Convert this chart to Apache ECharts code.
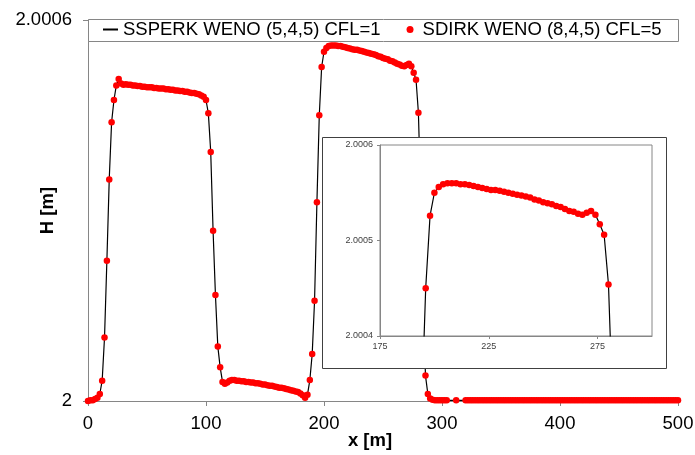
<!DOCTYPE html>
<html>
<head>
<meta charset="utf-8">
<title>H [m]</title>
<script src="https://cdn.jsdelivr.net/npm/echarts@6/dist/echarts.min.js"></script>
<style>
html,body{margin:0;padding:0;background:#fff}
#main{width:695px;height:455px}
</style>
</head>
<body>
<div id="main"></div>
<script>
// x of the mesh points [m]
const xPos=[
  0,2,4,6,8,10,12,14,16,18,20,22,24,26,28,30,32,34,36,38,40,42,44,46,48,
  50,52,54,56,58,60,62,64,66,68,70,72,74,76,78,80,82,84,86,88,90,92,94,96,98,
  100,102,104,106,108,110,112,114,116,118,120,122,124,126,128,130,132,134,136,138,140,142,144,146,148,
  150,152,154,156,158,160,162,164,166,168,170,172,174,176,178,180,182,184,186,188,190,192,194,196,198,
  200,202,204,206,208,210,212,214,216,218,220,222,224,226,228,230,232,234,236,238,240,242,244,246,248,
  250,252,254,256,258,260,262,264,266,268,270,272,274,276,278,280,282,284,286,288,290,292,294,296,298,
  300,302,304,306,308,310,312,314,316,318,320,322,324,326,328,330,332,334,336,338,340,342,344,346,348,
  350,352,354,356,358,360,362,364,366,368,370,372,374,376,378,380,382,384,386,388,390,392,394,396,398,
  400,402,404,406,408,410,412,414,416,418,420,422,424,426,428,430,432,434,436,438,440,442,444,446,448,
  450,452,454,456,458,460,462,464,466,468,470,472,474,476,478,480,482,484,486,488,490,492,494,496,498,
  500
]
// H - 2, in units of 1e-4 m
const dH=[
  0.00,0.01,0.01,0.03,0.05,0.11,0.32,1.00,2.21,3.49,4.39,4.74,4.97,5.07,5.00,4.98,4.99,4.98,4.98,4.97,4.97,4.96,4.96,4.95,4.95,
  4.94,4.94,4.94,4.93,4.93,4.92,4.92,4.92,4.91,4.91,4.90,4.90,4.89,4.89,4.88,4.88,4.87,4.87,4.86,4.85,4.85,4.84,4.83,4.81,4.79,
  4.74,4.53,3.92,2.68,1.67,0.86,0.53,0.30,0.27,0.29,0.32,0.33,0.33,0.32,0.32,0.31,0.31,0.30,0.30,0.29,0.29,0.28,0.28,0.27,0.26,
  0.26,0.25,0.24,0.24,0.23,0.22,0.21,0.21,0.20,0.19,0.18,0.17,0.16,0.15,0.14,0.12,0.09,0.05,0.10,0.33,0.74,1.58,3.13,4.50,5.26,
  5.50,5.56,5.59,5.60,5.60,5.60,5.59,5.59,5.58,5.57,5.56,5.55,5.54,5.53,5.53,5.52,5.51,5.50,5.49,5.48,5.47,5.46,5.45,5.43,5.42,
  5.40,5.39,5.38,5.36,5.35,5.33,5.31,5.30,5.28,5.27,5.29,5.31,5.27,5.17,5.06,4.54,3.20,1.50,0.40,0.11,0.04,0.02,0.01,0.01,0.01,
  0.01,0.01,0.01,0.01,0.01,0.01,0.01,0.01,0.01,0.01,0.01,0.01,0.01,0.01,0.01,0.01,0.01,0.01,0.01,0.01,0.01,0.01,0.01,0.01,0.01,
  0.01,0.01,0.01,0.01,0.01,0.01,0.01,0.01,0.01,0.01,0.01,0.01,0.01,0.01,0.01,0.01,0.01,0.01,0.01,0.01,0.01,0.01,0.01,0.01,0.01,
  0.01,0.01,0.01,0.01,0.01,0.01,0.01,0.01,0.01,0.01,0.01,0.01,0.01,0.01,0.01,0.01,0.01,0.01,0.01,0.01,0.01,0.01,0.01,0.01,0.01,
  0.01,0.01,0.01,0.01,0.01,0.01,0.01,0.01,0.01,0.01,0.01,0.01,0.01,0.01,0.01,0.01,0.01,0.01,0.01,0.01,0.01,0.01,0.01,0.01,0.01,
  0.01
]
// points where the SDIRK markers are missing
const dotSkip=[306,308,310,314,316,318]

const names=['SSPERK WENO (5,4,5) CFL=1','SDIRK WENO (8,4,5) CFL=5']
const mainXTicks=[0,100,200,300,400,500]
const mainYTicks=[2,2.0006]
const insetXTicks=[175,225,275]
const insetXMax=300
const insetYTicks=[2.0004,2.0005,2.0006]

const font='"Liberation Sans", Arial, sans-serif'
const fs=18.5
const axisGray='#868686'

const lineData=xPos.map((x,i)=>[x,2+dH[i]*1e-4])
const dotData=lineData.filter(p=>dotSkip.indexOf(p[0])<0)

const myChart=echarts.init(document.querySelector('#main'))
const option={
  animation:false,
  backgroundColor:'#fff',
  legend:{
    // hide the dot on the line icon
    data:[{name:names[0],itemStyle:{opacity:0}},names[1]],
    left:102,
    top:20,
    padding:0,
    itemGap:26,
    itemWidth:15,
    itemHeight:7,
    selectedMode:false,
    textStyle:{fontSize:fs,color:'#000',fontFamily:font}
  },
  graphic:{elements:[
    // legend frame
    {type:'rect',z:1,shape:{x:88.5,y:19.5,width:590,height:22},style:{fill:'#fff',stroke:axisGray,lineWidth:1}},
    // inset frame
    {type:'rect',z:5,shape:{x:322.5,y:137.5,width:344,height:231},style:{fill:'#fff',stroke:'#404040',lineWidth:1}}
  ]},
  grid:[
    {left:88,right:17,top:20,bottom:54,show:false,containLabel:false,outerBoundsMode:'none'},
    {left:380,top:145,width:272,height:191,show:true,borderColor:axisGray,borderWidth:1,
      backgroundColor:'transparent',z:6,containLabel:false,outerBoundsMode:'none'}
  ],
  xAxis:[
    {
      type:'value',gridIndex:0,
      min:mainXTicks[0],max:mainXTicks[mainXTicks.length-1],interval:mainXTicks[1]-mainXTicks[0],
      name:'x [m]',nameLocation:'middle',nameGap:30,nameMoveOverlap:false,
      nameTextStyle:{fontSize:fs,fontWeight:'bold',color:'#000',fontFamily:font,padding:[0,26,0,0]},
      axisLine:{show:true,lineStyle:{color:axisGray,width:1}},
      axisTick:{show:true,length:5,lineStyle:{color:axisGray}},
      axisLabel:{fontSize:fs,color:'#000',fontFamily:font,margin:13},
      splitLine:{show:false}
    },
    {
      type:'value',gridIndex:1,z:7,
      min:insetXTicks[0],max:insetXMax,interval:insetXTicks[1]-insetXTicks[0],
      axisLine:{show:true,lineStyle:{color:axisGray,width:1}},
      axisTick:{show:true,length:3,lineStyle:{color:axisGray}},
      axisLabel:{fontSize:9,color:'#404040',fontFamily:font,margin:6,showMaxLabel:false},
      splitLine:{show:false}
    }
  ],
  yAxis:[
    {
      type:'value',gridIndex:0,
      min:mainYTicks[0],max:mainYTicks[1],interval:mainYTicks[1]-mainYTicks[0],
      name:'H [m]',nameLocation:'middle',nameGap:31,nameRotate:90,nameMoveOverlap:false,
      nameTextStyle:{fontSize:fs,fontWeight:'bold',color:'#000',fontFamily:font},
      axisLine:{show:true,lineStyle:{color:axisGray,width:1}},
      axisTick:{show:true,length:5,lineStyle:{color:axisGray}},
      axisLabel:{fontSize:fs,color:'#000',fontFamily:font,margin:16,
        formatter:v=>String(Number(v.toFixed(4)))},
      splitLine:{show:false}
    },
    {
      type:'value',gridIndex:1,z:7,
      min:insetYTicks[0],max:insetYTicks[insetYTicks.length-1],interval:0.0001,
      axisLine:{show:true,lineStyle:{color:axisGray,width:1}},
      axisTick:{show:true,length:3,lineStyle:{color:axisGray}},
      axisLabel:{fontSize:9,color:'#404040',fontFamily:font,margin:7,
        formatter:v=>v.toFixed(4)},
      splitLine:{show:false}
    }
  ],
  series:[
    {
      name:names[0],type:'line',xAxisIndex:0,yAxisIndex:0,z:2,
      data:lineData,symbol:'none',
      lineStyle:{color:'#000',width:1.2},itemStyle:{color:'#000'}
    },
    {
      name:names[1],type:'scatter',xAxisIndex:0,yAxisIndex:0,z:3,
      data:dotData,symbolSize:6.5,itemStyle:{color:'#ff0000',opacity:1}
    },
    {
      name:names[0],type:'line',xAxisIndex:1,yAxisIndex:1,z:8,
      data:lineData,symbol:'none',clip:true,
      lineStyle:{color:'#000',width:1.2},itemStyle:{color:'#000'}
    },
    {
      name:names[1],type:'scatter',xAxisIndex:1,yAxisIndex:1,z:9,
      data:dotData,symbolSize:6.5,clip:true,itemStyle:{color:'#ff0000',opacity:1}
    }
  ]
}
myChart.setOption(option)
</script>
</body>
</html>
